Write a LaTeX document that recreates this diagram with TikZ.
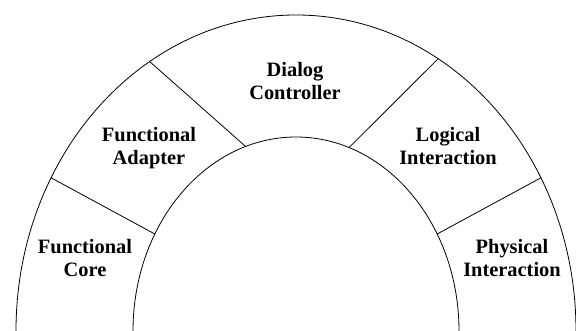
\documentclass[tikz,border=0pt]{standalone}
\usepackage{fontspec}
\setmainfont{Liberation Serif}
\begin{document}
\begin{tikzpicture}[x=1pt,y=-1pt,
  lbl/.style={font=\bfseries\fontsize{20.4}{23}\selectfont, align=center, inner sep=0pt},
  ring/.style={line width=0.8pt}]
\useasboundingbox (0,0) rectangle (576,331);
\coordinate (c) at (296,331);
% ring outlines
\draw[ring] (c) ++(-280,0) arc[start angle=180,end angle=360,x radius=280,y radius=316];
\draw[ring] (c) ++(-163,0) arc[start angle=180,end angle=360,x radius=163,y radius=194];
% divider endpoints
\coordinate (l1i) at ({296+163*cos(150)},{331-194*sin(150)});
\coordinate (l1o) at ({296+280*cos(151)},{331-316*sin(151)});
\coordinate (l2i) at ({296+163*cos(108)},{331-194*sin(108)});
\coordinate (l2o) at ({296+280*cos(121.5)},{331-316*sin(121.5)});
\coordinate (r2i) at ({296+163*cos(71)},{331-194*sin(71)});
\coordinate (r2o) at ({296+280*cos(59.5)},{331-316*sin(59.5)});
\coordinate (r1i) at ({296+163*cos(30)},{331-194*sin(30)});
\coordinate (r1o) at ({296+280*cos(29)},{331-316*sin(29)});
\draw[ring] (l1i) -- (l1o);
\draw[ring] (l2i) -- (l2o);
\draw[ring] (r2i) -- (r2o);
\draw[ring] (r1i) -- (r1o);
% labels
\node[lbl] (dc) at (295,81) {Dialog\\Controller};
\node[lbl] (fa) at (149,148) {Functional\\Adapter};
\node[lbl] (li) at (448,146) {Logical\\Interaction};
\node[lbl] (fc) at (85,258) {Functional\\Core};
\node[lbl] (pi) at (512,258) {Physical\\Interaction};
\end{tikzpicture}
\end{document}
